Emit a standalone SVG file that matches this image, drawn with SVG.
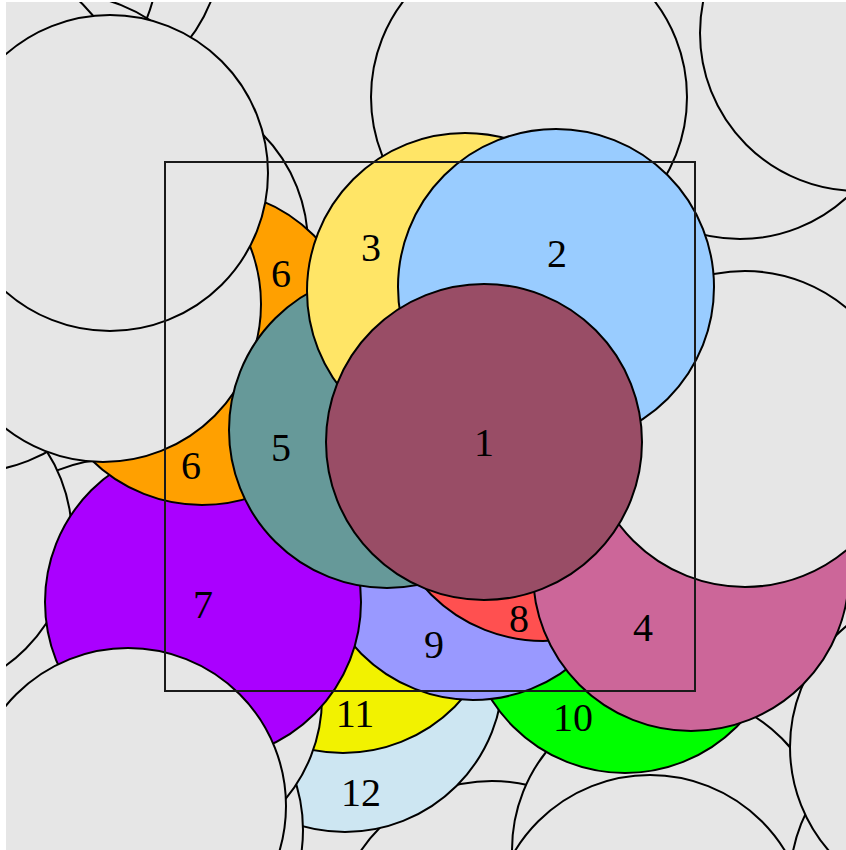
<svg xmlns="http://www.w3.org/2000/svg" width="846" height="850" viewBox="0 0 846 850">
<defs>
<clipPath id="frame"><rect x="6" y="2" width="840" height="848"/></clipPath>
</defs>
<style>
circle{stroke:#000;stroke-width:2}
.g{fill:#e6e6e6}
text{font-family:"Liberation Serif","DejaVu Serif",serif;font-size:40px;text-anchor:middle;fill:#000}
</style>
<rect x="6" y="2" width="840" height="848" fill="#e6e6e6"/>
<g clip-path="url(#frame)">
<g id="bg-top">
<circle class="g" cx="64" cy="-57" r="158"/>
<circle class="g" cx="0" cy="-40" r="158"/>
<circle class="g" cx="63" cy="152" r="158"/>
<circle class="g" cx="-29" cy="116" r="158"/>
<circle class="g" cx="740" cy="81" r="158"/>
<circle class="g" cx="858" cy="33" r="158"/>
<circle class="g" cx="529" cy="97" r="158"/>
</g>
<g id="bg-bottom">
<circle class="g" cx="492" cy="939" r="158"/>
<circle class="g" cx="670" cy="850" r="158"/>
<circle class="g" cx="948" cy="882" r="158"/>
<circle class="g" cx="948" cy="747" r="158"/>
<circle class="g" cx="650" cy="933" r="158"/>
</g>
<g id="c12"><circle cx="345" cy="674" r="158" fill="#cde6f2"/><text x="361" y="806">12</text></g>
<g id="c11"><circle cx="343" cy="595" r="158" fill="#f2f200"/><text x="355" y="727">11</text></g>
<circle class="g" cx="145" cy="830" r="158"/>
<circle class="g" cx="164" cy="698" r="158"/>
<g id="c10"><circle cx="625" cy="615" r="158" fill="#00ff00"/><text x="573" y="731">10</text></g>
<g id="c9"><circle cx="473" cy="542" r="158" fill="#9999ff"/><text x="434" y="658">9</text></g>
<g id="c8"><circle cx="543" cy="483" r="158" fill="#ff5050"/><text x="519" y="632">8</text></g>
<circle class="g" cx="116" cy="617" r="158"/>
<circle class="g" cx="-86" cy="537" r="158"/>
<g id="c7"><circle cx="203" cy="602" r="158" fill="#aa00ff"/><text x="203" y="618">7</text></g>
<circle class="g" cx="128" cy="806" r="158"/>
<circle class="g" cx="150" cy="245" r="158"/>
<g id="c6"><circle cx="202" cy="347" r="158" fill="#ffa000"/><text x="191" y="479">6</text><text x="281" y="287">6</text></g>
<circle class="g" cx="-30" cy="314" r="158"/>
<circle class="g" cx="103" cy="304" r="158"/>
<circle class="g" cx="110" cy="173" r="158"/>
<g id="c5"><circle cx="387" cy="430" r="158" fill="#669999"/><text x="281" y="461">5</text></g>
<g id="c4"><circle cx="691" cy="573" r="158" fill="#cc6699"/><text x="643" y="641">4</text></g>
<circle class="g" cx="745" cy="429" r="158"/>
<g id="c3"><circle cx="465" cy="291" r="158" fill="#ffe566"/><text x="371" y="261">3</text></g>
<g id="c2"><circle cx="556" cy="287" r="158" fill="#99ccff"/><text x="557" y="267">2</text></g>
<g id="c1"><circle cx="484" cy="442" r="158" fill="#994d66"/><text x="484" y="456">1</text></g>
</g>
<rect x="165" y="162" width="530" height="529" fill="none" stroke="#1a1a1a" stroke-width="2"/>
</svg>
